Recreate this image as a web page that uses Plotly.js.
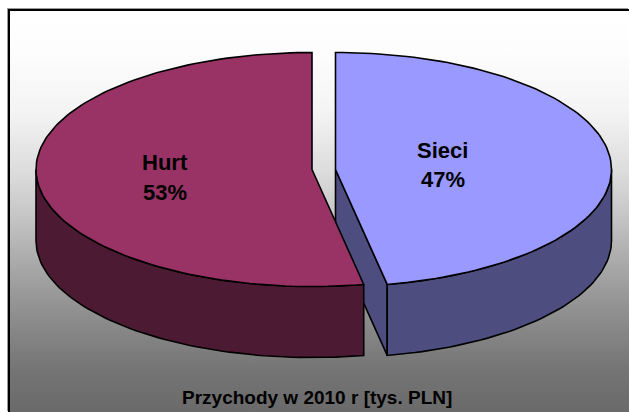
<!DOCTYPE html>
<html><head><meta charset="utf-8">
<script src="https://cdn.plot.ly/plotly-3.0.1.min.js"></script>
<style>
html,body{margin:0;padding:0;background:#fff;width:629px;height:412px;overflow:hidden}
#bg{position:absolute;left:8px;top:9px;width:621px;height:403px;box-sizing:border-box;border-top:2px solid #000;border-left:2px solid #000;
background:linear-gradient(to bottom,#ffffff 0%,#fdfdfd 10%,#f4f4f4 25%,#dcdcdc 40%,#c8c8c8 50%,#b0b0b0 60%,#9a9a9a 70%,#868686 80%,#747474 90%,#6a6a6a 100%);box-shadow:-1px -1px 0 #999}
#chart{position:absolute;left:0;top:0;width:629px;height:412px}
</style></head><body>
<div id="bg"></div><div id="chart"></div>
<script>
const categories = ["Sieci", "Hurt"];
const shares = [47, 53];
const titleText = "Przychody w 2010 r [tys. PLN]";

const rx = 276, ry = 117, depth = 71, cy = 169.5;
const cxSieci = 335.5, cxHurt = 312;
const ink = {color:"#000", width:1.6};

function pt(cx, deg, dy){ const a = deg*Math.PI/180;
  return [cx + rx*Math.sin(a), cy - ry*Math.cos(a) + (dy||0)]; }
function arc(cx, a0, a1, dy){ const out=[]; const n=Math.max(2,Math.ceil(Math.abs(a1-a0)/1.5));
  for(let i=0;i<=n;i++) out.push(pt(cx, a0+(a1-a0)*i/n, dy)); return out; }
function poly(points, fill){ const c = points.concat([points[0]]);
  return {type:"scatter",mode:"lines",x:c.map(p=>p[0]),y:c.map(p=>p[1]),fill:"toself",fillcolor:fill,line:ink,hoverinfo:"skip",showlegend:false}; }

const total = shares[0]+shares[1];
const split = shares[0]/total*360;   // clockwise from 12 o'clock, Sieci first

const sieciCut = [[cxSieci,cy],pt(cxSieci,split),pt(cxSieci,split,depth),[cxSieci,cy+depth]];
const sieciWall = arc(cxSieci,90,split).concat(arc(cxSieci,split,90,depth));
const sieciTop = [[cxSieci,cy]].concat(arc(cxSieci,0,split));
const hurtWall = arc(cxHurt,split,270).concat(arc(cxHurt,270,split,depth));
const hurtTop = [[cxHurt,cy]].concat(arc(cxHurt,split,360));

const traces = [
  poly(sieciCut,"#4d4d80"),
  poly(sieciWall,"#4d4d80"),
  poly(sieciTop,"#9999ff"),
  poly(hurtWall,"#4d1a33"),
  poly(hurtTop,"#993366")
];
const lab = (t,x,y,s)=>({text:t,x:x,y:y,xref:"x",yref:"y",showarrow:false,xanchor:"center",yanchor:"middle",
  font:{family:"Liberation Sans, Arial, sans-serif",size:s,color:"#000"}});
const layout = {
  width:629,height:412,margin:{l:0,r:0,t:0,b:0},
  paper_bgcolor:"rgba(0,0,0,0)",plot_bgcolor:"rgba(0,0,0,0)",showlegend:false,
  xaxis:{range:[0,629],visible:false,fixedrange:true},
  yaxis:{range:[412,0],visible:false,fixedrange:true},
  annotations:[
    lab("<b>"+categories[0]+"</b>",442.5,150,22),
    lab("<b>"+shares[0]+"%</b>",443,179,22),
    lab("<b>"+categories[1]+"</b>",164.5,162,22),
    lab("<b>"+shares[1]+"%</b>",164.5,192,22),
    lab("<b>"+titleText+"</b>",317,397,19)
  ]
};
Plotly.newPlot("chart",traces,layout,{staticPlot:true,displayModeBar:false});
</script></body></html>
